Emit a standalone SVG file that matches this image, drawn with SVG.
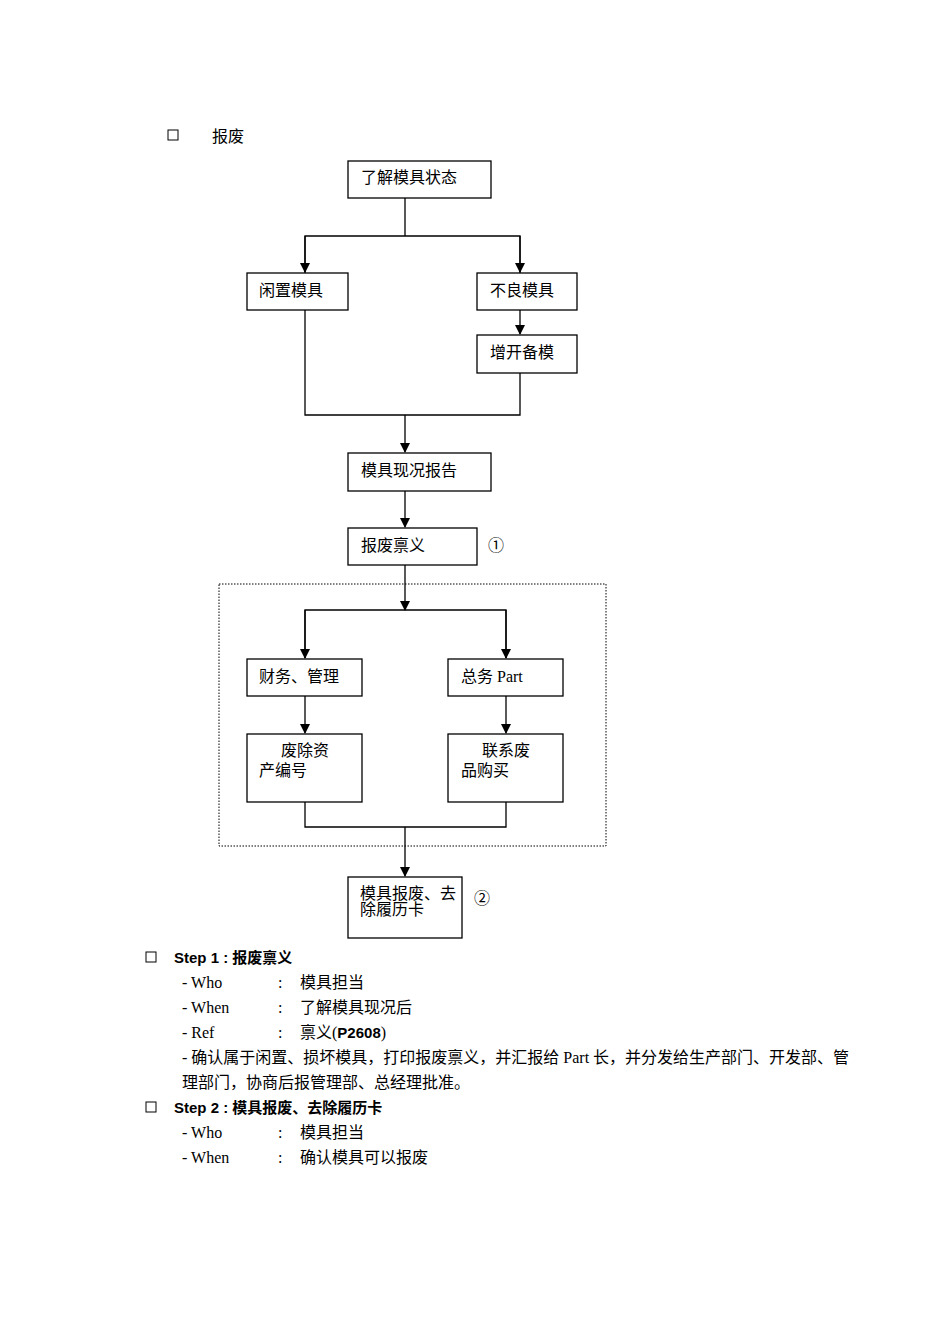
<svg xmlns="http://www.w3.org/2000/svg" width="950" height="1344" viewBox="0 0 950 1344">
<style>
.b{fill:#fff;stroke:#000;stroke-width:1.3}
.t{font-family:"Liberation Serif","Noto Sans CJK SC",serif;font-size:16px;fill:#000}
.h{font-family:"Liberation Sans","Noto Sans CJK SC",sans-serif;font-size:15px;font-weight:bold;fill:#000}
.c{fill:none;stroke:#000;stroke-width:1.3}
</style>
<defs><marker id="a" markerWidth="10" markerHeight="10" refX="9" refY="5" orient="auto" markerUnits="userSpaceOnUse"><path d="M0,0 L10,5 L0,10z"/></marker></defs>
<rect x="168" y="130" width="10" height="10" fill="none" stroke="#000"/>
<text class="t" x="212" y="142">报废</text>
<rect x="219" y="584" width="387" height="262" fill="none" stroke="#000" stroke-dasharray="1.5,1.5"/>
<g id="connectors">
<path class="c" d="M405,198V236M305,273V236H520V273" />
<path class="c" d="M305,236V272" marker-end="url(#a)"/>
<path class="c" d="M520,236V272" marker-end="url(#a)"/>
<path class="c" d="M520,310V334" marker-end="url(#a)"/>
<path class="c" d="M305,310V415H520V373M405,415V452" marker-end="url(#a)"/>
<path class="c" d="M405,491V527" marker-end="url(#a)"/>
<path class="c" d="M405,565V610" marker-end="url(#a)"/>
<path class="c" d="M305,658V610H506V658" />
<path class="c" d="M305,610V658" marker-end="url(#a)"/>
<path class="c" d="M506,610V658" marker-end="url(#a)"/>
<path class="c" d="M305,696V733" marker-end="url(#a)"/>
<path class="c" d="M506,696V733" marker-end="url(#a)"/>
<path class="c" d="M305,802V827H506V802M405,827V876" marker-end="url(#a)"/>
</g>
<g id="n1"><rect class="b" x="348" y="161" width="143" height="37"/><text class="t" x="361" y="183">了解模具状态</text></g>
<g id="n2"><rect class="b" x="247" y="273" width="101" height="37"/><text class="t" x="259" y="296">闲置模具</text></g>
<g id="n3"><rect class="b" x="477" y="273" width="100" height="37"/><text class="t" x="490" y="296">不良模具</text></g>
<g id="n4"><rect class="b" x="477" y="335" width="100" height="38"/><text class="t" x="490" y="358">增开备模</text></g>
<g id="n5"><rect class="b" x="348" y="453" width="143" height="38"/><text class="t" x="361" y="476">模具现况报告</text></g>
<g id="n6"><rect class="b" x="348" y="528" width="129" height="37"/><text class="t" x="361" y="551">报废禀义</text><text class="t" x="488" y="551">①</text></g>
<g id="n7"><rect class="b" x="247" y="659" width="115" height="37"/><text class="t" x="259" y="682">财务、管理</text></g>
<g id="n8"><rect class="b" x="448" y="659" width="115" height="37"/><text class="t" x="461" y="682">总务 Part</text></g>
<g id="n9"><rect class="b" x="247" y="734" width="115" height="68"/><text class="t" x="281" y="756">废除资</text><text class="t" x="259" y="776">产编号</text></g>
<g id="n10"><rect class="b" x="448" y="734" width="115" height="68"/><text class="t" x="482" y="756">联系废</text><text class="t" x="461" y="776">品购买</text></g>
<g id="n11"><rect class="b" x="348" y="877" width="114" height="61"/><text class="t" x="360" y="899">模具报废、去</text><text class="t" x="360" y="915">除履历卡</text><text class="t" x="474" y="904">②</text></g>
<rect x="146" y="952" width="10" height="10" fill="none" stroke="#000"/>
<text class="h" x="174" y="963">Step 1 : 报废禀义</text>
<text class="t" x="182" y="988">- Who</text><text class="t" x="278" y="988">:</text><text class="t" x="300" y="988">模具担当</text>
<text class="t" x="182" y="1013">- When</text><text class="t" x="278" y="1013">:</text><text class="t" x="300" y="1013">了解模具现况后</text>
<text class="t" x="182" y="1038">- Ref</text><text class="t" x="278" y="1038">:</text><text class="t" x="300" y="1038">禀义(<tspan font-family="Liberation Sans,sans-serif" font-weight="bold" font-size="15">P2608</tspan>)</text>
<text class="t" x="182" y="1063">- 确认属于闲置、损坏模具，打印报废禀义，并汇报给 Part 长，并分发给生产部门、开发部、管</text>
<text class="t" x="182" y="1088">理部门，协商后报管理部、总经理批准。</text>
<rect x="146" y="1102" width="10" height="10" fill="none" stroke="#000"/>
<text class="h" x="174" y="1113">Step 2 : 模具报废、去除履历卡</text>
<text class="t" x="182" y="1138">- Who</text><text class="t" x="278" y="1138">:</text><text class="t" x="300" y="1138">模具担当</text>
<text class="t" x="182" y="1163">- When</text><text class="t" x="278" y="1163">:</text><text class="t" x="300" y="1163">确认模具可以报废</text>
</svg>
